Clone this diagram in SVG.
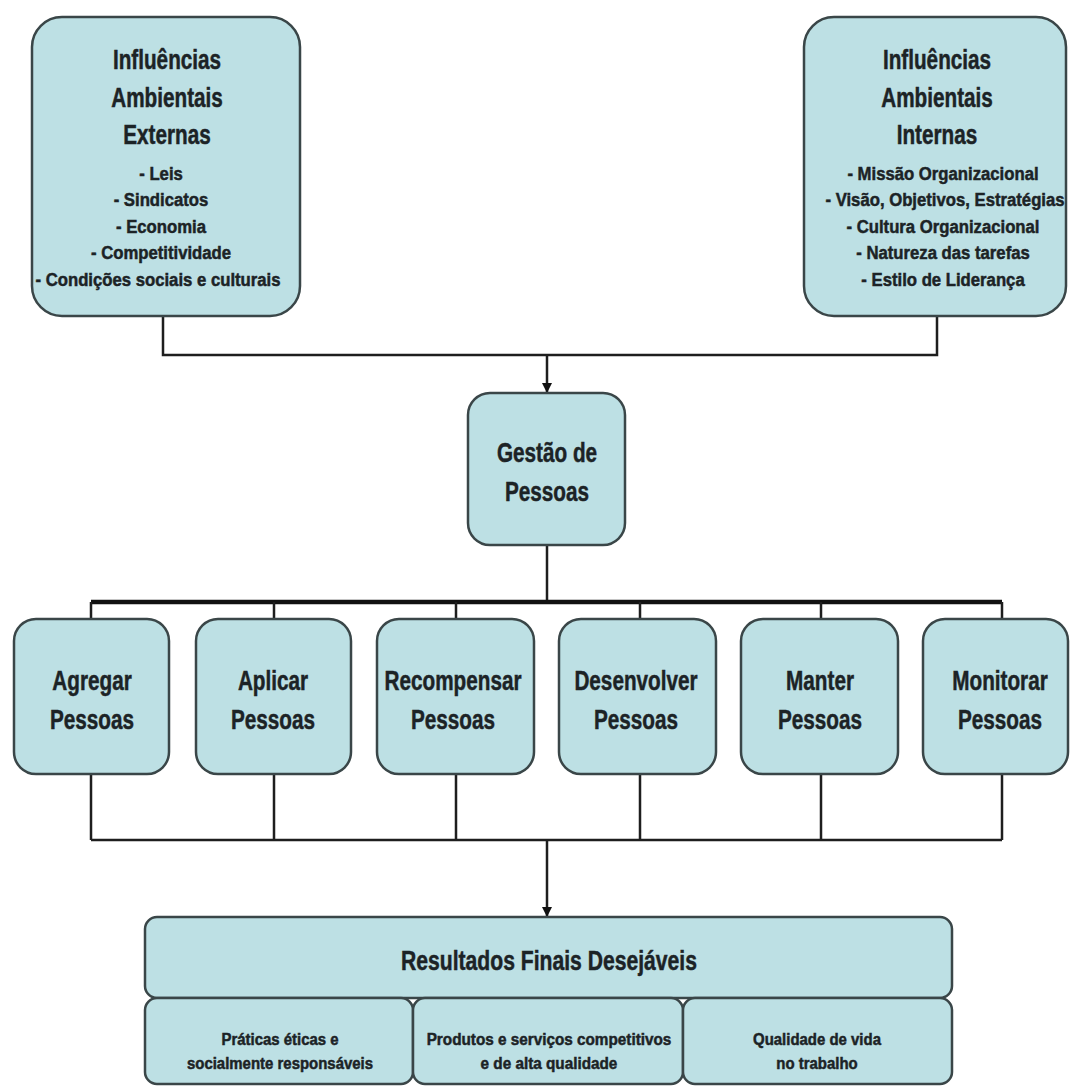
<svg xmlns="http://www.w3.org/2000/svg" width="1070" height="1088" viewBox="0 0 1070 1088">
  <style>
    .box { fill: #bde0e4; stroke: #3a4648; stroke-width: 2.5; }
    .conn { fill: none; stroke: #1e1e1e; stroke-width: 2.5; }
    .thick { fill: none; stroke: #111; stroke-width: 4.5; }
    text { font-family: "Liberation Sans", Arial, sans-serif; font-weight: bold; fill: #1c2326; stroke: #1c2326; stroke-width: 0.5; text-anchor: middle; }
    .h { font-size: 28px; }
    .b { font-size: 19px; }
    .m { font-size: 28px; }
    .s { font-size: 17px; }
  </style>
  <defs>
    <marker id="arrow" viewBox="0 0 10 10" refX="10" refY="5" markerWidth="10" markerHeight="12" markerUnits="userSpaceOnUse" orient="auto">
      <path d="M0,0 L10,5 L0,10 z" fill="#111"/>
    </marker>
  </defs>
  <rect width="1070" height="1088" fill="#ffffff"/>

  <g id="connectors">
    <path class="conn" d="M163,316 V355 H937 V316"/>
    <path class="conn" d="M547,355 V393" marker-end="url(#arrow)"/>
    <path class="conn" d="M547,545 V602"/>
    <path class="thick" d="M91,602 H1002"/>
    <path class="conn" d="M91,602 V619 M274,602 V619 M456,602 V619 M640,602 V619 M821,602 V619 M1002,602 V619"/>
    <path class="conn" d="M91,774 V840 M274,774 V840 M456,774 V840 M640,774 V840 M821,774 V840 M1002,774 V840"/>
    <path class="conn" d="M91,840 H1002"/>
    <path class="conn" d="M547,840 V917" marker-end="url(#arrow)"/>
  </g>

  <g id="externas">
    <rect class="box" x="32" y="17" width="268" height="299" rx="30"/>
    <text class="h" transform="translate(167 69) scale(0.74 1)">Influências</text>
    <text class="h" transform="translate(167 107) scale(0.74 1)">Ambientais</text>
    <text class="h" transform="translate(167 144) scale(0.74 1)">Externas</text>
    <text class="b" transform="translate(161 180) scale(0.88 1)">- Leis</text>
    <text class="b" transform="translate(161 206) scale(0.88 1)">- Sindicatos</text>
    <text class="b" transform="translate(161 233) scale(0.88 1)">- Economia</text>
    <text class="b" transform="translate(161 259) scale(0.88 1)">- Competitividade</text>
    <text class="b" transform="translate(158 286) scale(0.88 1)">- Condições sociais e culturais</text>
  </g>

  <g id="internas">
    <rect class="box" x="804" y="17" width="262" height="299" rx="30"/>
    <text class="h" transform="translate(937 69) scale(0.74 1)">Influências</text>
    <text class="h" transform="translate(937 107) scale(0.74 1)">Ambientais</text>
    <text class="h" transform="translate(937 144) scale(0.74 1)">Internas</text>
    <text class="b" transform="translate(943 180) scale(0.88 1)">- Missão Organizacional</text>
    <text class="b" transform="translate(945 206) scale(0.88 1)">- Visão, Objetivos, Estratégias</text>
    <text class="b" transform="translate(943 233) scale(0.88 1)">- Cultura Organizacional</text>
    <text class="b" transform="translate(943 259) scale(0.88 1)">- Natureza das tarefas</text>
    <text class="b" transform="translate(943 286) scale(0.88 1)">- Estilo de Liderança</text>
  </g>

  <g id="gestao">
    <rect class="box" x="468" y="393" width="157" height="152" rx="22"/>
    <text class="m" transform="translate(547 462) scale(0.74 1)">Gestão de</text>
    <text class="m" transform="translate(547 501) scale(0.74 1)">Pessoas</text>
  </g>

  <g id="agregar">
    <rect class="box" x="14" y="619" width="155" height="155" rx="22"/>
    <text class="m" transform="translate(92 690) scale(0.74 1)">Agregar</text>
    <text class="m" transform="translate(92 729) scale(0.74 1)">Pessoas</text>
  </g>
  <g id="aplicar">
    <rect class="box" x="196" y="619" width="155" height="155" rx="22"/>
    <text class="m" transform="translate(273 690) scale(0.74 1)">Aplicar</text>
    <text class="m" transform="translate(273 729) scale(0.74 1)">Pessoas</text>
  </g>
  <g id="recompensar">
    <rect class="box" x="377" y="619" width="157" height="155" rx="22"/>
    <text class="m" transform="translate(453 690) scale(0.74 1)">Recompensar</text>
    <text class="m" transform="translate(453 729) scale(0.74 1)">Pessoas</text>
  </g>
  <g id="desenvolver">
    <rect class="box" x="559" y="619" width="157" height="155" rx="22"/>
    <text class="m" transform="translate(636 690) scale(0.74 1)">Desenvolver</text>
    <text class="m" transform="translate(636 729) scale(0.74 1)">Pessoas</text>
  </g>
  <g id="manter">
    <rect class="box" x="741" y="619" width="157" height="155" rx="22"/>
    <text class="m" transform="translate(820 690) scale(0.74 1)">Manter</text>
    <text class="m" transform="translate(820 729) scale(0.74 1)">Pessoas</text>
  </g>
  <g id="monitorar">
    <rect class="box" x="923" y="619" width="145" height="155" rx="22"/>
    <text class="m" transform="translate(1000 690) scale(0.74 1)">Monitorar</text>
    <text class="m" transform="translate(1000 729) scale(0.74 1)">Pessoas</text>
  </g>

  <g id="resultados">
    <rect class="box" x="145" y="917" width="807" height="81" rx="12"/>
    <text class="m" transform="translate(549 970) scale(0.755 1)">Resultados Finais Desejáveis</text>
  </g>
  <g id="praticas">
    <rect class="box" x="145" y="998" width="268" height="86" rx="12"/>
    <text class="s" transform="translate(280 1045) scale(0.88 1)">Práticas éticas e</text>
    <text class="s" transform="translate(280 1069) scale(0.88 1)">socialmente responsáveis</text>
  </g>
  <g id="produtos">
    <rect class="box" x="413" y="998" width="270" height="86" rx="12"/>
    <text class="s" transform="translate(549 1045) scale(0.9 1)">Produtos e serviços competitivos</text>
    <text class="s" transform="translate(549 1069) scale(0.9 1)">e de alta qualidade</text>
  </g>
  <g id="qualidade">
    <rect class="box" x="683" y="998" width="269" height="86" rx="12"/>
    <text class="s" transform="translate(817 1045) scale(0.88 1)">Qualidade de vida</text>
    <text class="s" transform="translate(817 1069) scale(0.88 1)">no trabalho</text>
  </g>
</svg>
